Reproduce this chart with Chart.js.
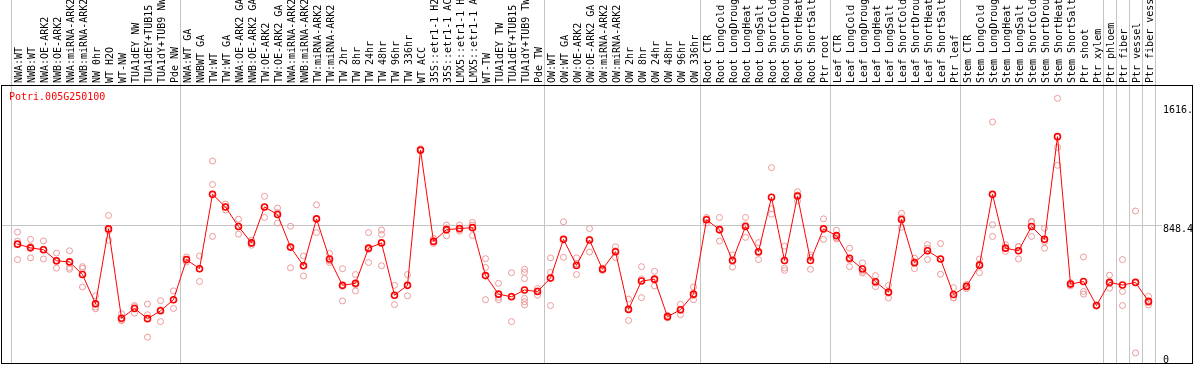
<!DOCTYPE html>
<html>
<head>
<meta charset="utf-8">
<script src="https://cdn.jsdelivr.net/npm/chart.js@4.4.0/dist/chart.umd.min.js"></script>
<style>
  body { margin: 0; background: #fff; }
  #wrap { position: relative; width: 1194px; height: 370px; }
  #gene { position: absolute; left: 9px; top: 92px; font: 10px 'DejaVu Sans Mono', monospace; line-height: 10px; color: #ff0000; }
</style>
</head>
<body>
<div id="wrap">
  <canvas id="exprChart" width="1194" height="370"></canvas>
  <div id="gene">Potri.005G250100</div>
</div>
<script>
// Sample names (top axis)
const samples = [
    'NWA:WT', 'NWB:WT', 'NWA:OE-ARK2', 'NWB:OE-ARK2', 'NWA:miRNA-ARK2', 'NWB:miRNA-ARK2',
    'NW 0hr', 'WT H2O', 'WT-NW', 'TUA1dEY NW', 'TUA1dEY+TUB15 NW', 'TUA1dY+TUB9 NW', 'Pde NW',
    'NWA:WT GA', 'NWBWT GA', 'TW:WT', 'TW:WT GA', 'NWA:OE-ARK2 GA', 'NWB:OE-ARK2 GA',
    'TW:OE-ARK2', 'TW:OE-ARK2 GA', 'NWA:miRNA-ARK2', 'NWB:miRNA-ARK2', 'TW:miRNA-ARK2', 'TW:miRNA-ARK2 GA',
    'TW 2hr', 'TW 8hr', 'TW 24hr', 'TW 48hr', 'TW 96hr', 'TW 336hr', 'WT ACC',
    '35S::etr1-1 H2O', '35S::etr1-1 ACC', 'LMX5::etr1-1 H2O', 'LMX5::etr1-1 ACC',
    'WT-TW', 'TUA1dEY TW', 'TUA1dEY+TUB15 TW', 'TUA1dY+TUB9 TW', 'Pde TW',
    'OW:WT', 'OW:WT GA', 'OW:OE-ARK2', 'OW:OE-ARK2 GA', 'OW:miRNA-ARK2', 'OW:miRNA-ARK2 GA',
    'OW 2hr', 'OW 8hr', 'OW 24hr', 'OW 48hr', 'OW 96hr', 'OW 336hr',
    'Root CTR', 'Root LongCold', 'Root LongDrought', 'Root LongHeat', 'Root LongSalt',
    'Root ShortCold', 'Root ShortDrought', 'Root ShortHeat', 'Root ShortSalt', 'Ptr root',
    'Leaf CTR', 'Leaf LongCold', 'Leaf LongDrought', 'Leaf LongHeat', 'Leaf LongSalt',
    'Leaf ShortCold', 'Leaf ShortDrought', 'Leaf ShortHeat', 'Leaf ShortSalt', 'Ptr leaf',
    'Stem CTR', 'Stem LongCold', 'Stem LongDrought', 'Stem LongHeat', 'Stem LongSalt',
    'Stem ShortCold', 'Stem ShortDrought', 'Stem ShortHeat', 'Stem ShortSalt', 'Ptr shoot',
    'Ptr xylem', 'Ptr phloem', 'Ptr fiber', 'Ptr vessel', 'Ptr fiber vessel'
];

// Mean expression per sample
const meanValues = [
    726, 702, 690, 618, 611, 529, 339, 825, 246, 309, 243, 294, 366,
    626, 567, 1049, 967, 840, 734, 967, 918, 707, 586, 890, 630,
    459, 472, 700, 734, 395, 459, 1336, 744, 820, 827, 833,
    522, 402, 385, 429, 419,
    506, 757, 588, 753, 563, 677, 303, 487, 499, 256, 301, 402,
    884, 820, 620, 840, 677, 1030, 620, 1038, 620, 825,
    781, 635, 565, 482, 415, 886, 605, 683, 630, 400,
    452, 590, 1049, 700, 683, 840, 757, 1423, 467, 484,
    328, 478, 461, 478, 355
];

// Replicates (null where a sample has fewer)
const rep1 = [
    804, 757, 747, 668, 683, 580, 391, 912, 275, 328, 338, 360, 423,
    643, 649, 1265, 986, 888, 751, 1036, 960, 842, 649, 981, 666,
    567, 529, 801, 818, 459, 529, 1345, 730, 850, 850, 867,
    632, 472, 541, 563, 438,
    637, 871, 637, 827, 570, 709, 370, 580, 550, 265, 336, 448,
    899, 899, 656, 899, 736, 1222, 713, 1066, 656, 890,
    816, 700, 605, 522, 459, 926, 635, 723, 730, 444,
    438, 630, 1518, 723, 711, 875, 829, 1671, 455, 643,
    330, 525, 626, 941, 387
];
const rep2 = [
    746, 637, 630, 571, 575, 569, 318, 751, 233, 279, 123, 300, 309,
    610, 484, 1113, 948, 791, 719, 899, 863, 573, 520, 801, 607,
    358, 423, 607, 789, 334, 391, 1330, 740, 780, 810, 782,
    575, 366, 224, 543, 395,
    543, 641, 529, 675, 555, 639, 231, 379, 455, 248, 269, 366,
    863, 746, 577, 770, 626, 956, 571, 1005, 563, 757,
    766, 580, 539, 451, 377, 835, 567, 626, 531, 379,
    465, 541, 852, 679, 630, 776, 700, 1353, 470, 419,
    325, 440, 419, 21, 332
];
const rep3 = [
    626, 712, 692, 614, 563, 448, 307, 812, 229, 320, 268, 224, 366,
    null, 567, 776, 967, 840, 732, 965, 931, 704, 588, 888, 618,
    453, 463, 692, 586, 393, 458, 1333, 763, 831, 820, 850,
    366, 381, 389, 503, 423,
    328, 759, 598, 757, 563, 683, 307, 501, 493, 256, 296, 392,
    890, 816, 626, 850, 669, 920, 556, 1045, 641, 827,
    760, 624, 550, 474, 408, 897, 613, 700, 630, 377,
    455, 598, 776, 698, 709, 867, 742, 1237, 477, 402,
    328, 470, 328, null, 347
];
// extra replicates for 'TUA1dY+TUB9 TW'
const extraRepSample = 'TUA1dY+TUB9 TW';
const extraReps = [374, 353, 332];

// Y axis
const yTickValues = [0, 848.4, 1616];
const yTickLabels = ['0', '848.4', '1616.'];
const refLine = 848.4;

// grid lines between sample groups (index of the sample right of the line)
const groupStarts = [0, 13, 41, 53, 63, 73, 84, 85, 86, 87, 88];

const gridGrey = '#c4c4c4';
const meanRed = '#ff0000';
const repPink = '#eb9898';

Chart.defaults.font.family = "'DejaVu Sans Mono', monospace";
Chart.defaults.font.size = 10;
Chart.defaults.color = '#000';

const repStyle = {
    showLine: false,
    pointRadius: 3,
    pointBorderWidth: 1,
    pointBorderColor: repPink,
    pointBackgroundColor: 'rgba(0,0,0,0)',
    order: 1
};

const extraData = samples.map(s => null);
const extraIdx = samples.indexOf(extraRepSample);

const repSets = [rep1, rep2, rep3].map((arr, i) => Object.assign({ label: 'rep' + (i + 1), data: arr }, repStyle));
extraReps.forEach((v, i) => {
    const d = extraData.slice();
    d[extraIdx] = v;
    repSets.push(Object.assign({ label: 'extra' + (i + 1), data: d }, repStyle));
});

// black frame round the plot, grey reference line into the left margin
const framePlugin = {
    id: 'frame',
    afterDraw(chart) {
        const { ctx, chartArea, scales } = chart;
        ctx.save();
        ctx.lineWidth = 1;
        const yRef = Math.round(scales.y.getPixelForValue(refLine)) + 0.5;
        ctx.strokeStyle = gridGrey;
        ctx.beginPath();
        ctx.moveTo(1, yRef);
        ctx.lineTo(chartArea.left, yRef);
        ctx.stroke();
        ctx.strokeStyle = '#000';
        ctx.strokeRect(1.5, chartArea.top + 0.5, chart.width - 3, chartArea.bottom - chartArea.top);
        ctx.restore();
    }
};

new Chart(document.getElementById('exprChart'), {
    type: 'line',
    data: {
        labels: samples,
        datasets: [{
            label: 'mean',
            data: meanValues,
            borderColor: meanRed,
            borderWidth: 1,
            pointRadius: 3,
            pointBorderWidth: 1.6,
            pointBorderColor: meanRed,
            pointBackgroundColor: 'rgba(0,0,0,0)',
            tension: 0,
            order: 0
        }].concat(repSets)
    },
    options: {
        responsive: false,
        animation: false,
        layout: { padding: { left: 11, right: 1, top: 0, bottom: 1 } },
        plugins: {
            legend: { display: false },
            tooltip: { enabled: false }
        },
        scales: {
            x: {
                position: 'top',
                offset: true,
                grid: {
                    offset: true,
                    lineWidth: 1,
                    tickLength: 85,
                    color: ctx => (ctx.type !== 'tick' || groupStarts.includes(ctx.index)) ? gridGrey : 'rgba(0,0,0,0)'
                },
                border: { display: true, color: '#000' },
                ticks: {
                    minRotation: 90,
                    maxRotation: 90,
                    autoSkip: false,
                    padding: -83,
                    labelOffset: 14,
                    color: '#000'
                },
                afterFit: s => { s.height = 85; }
            },
            y: {
                position: 'right',
                min: -44.4,
                max: 1757.7,
                grid: {
                    drawTicks: true,
                    tickLength: 7,
                    color: ctx => (ctx.tick && ctx.tick.value === refLine) ? gridGrey : 'rgba(0,0,0,0)'
                },
                border: { display: false },
                afterBuildTicks: s => { s.ticks = yTickValues.map(v => ({ value: v })); },
                ticks: {
                    padding: 1,
                    labelOffset: 4,
                    color: '#000',
                    callback: (v, i) => yTickLabels[i]
                },
                afterFit: s => { s.width = 38; }
            }
        }
    },
    plugins: [framePlugin]
});
</script>
</body>
</html>
